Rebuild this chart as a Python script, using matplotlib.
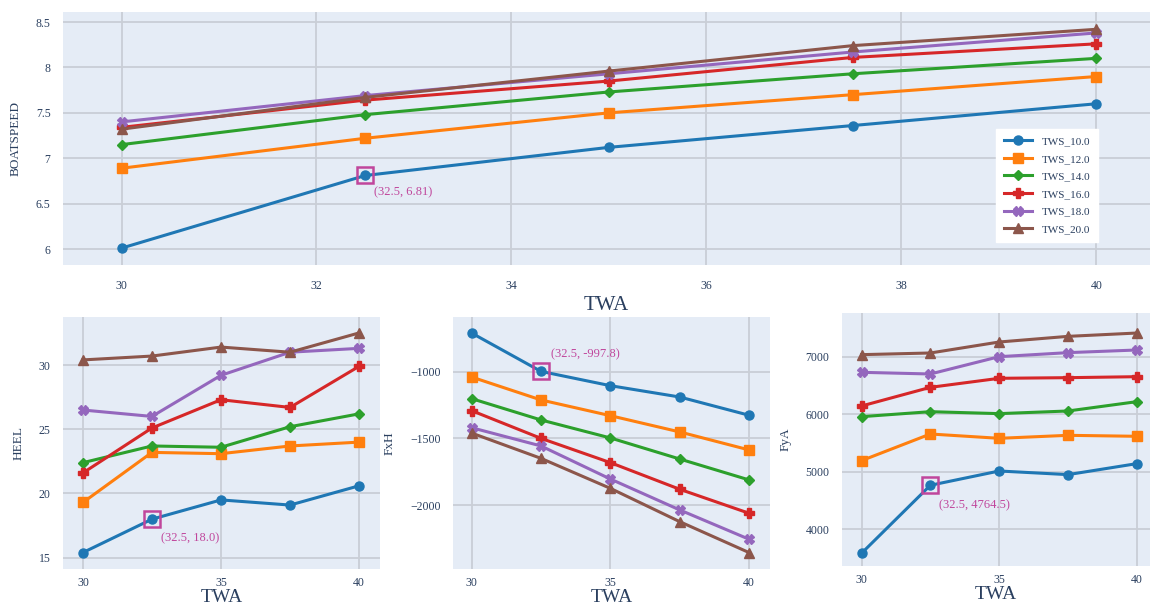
import matplotlib
matplotlib.use("Agg")
import matplotlib.pyplot as plt
from matplotlib.ticker import FuncFormatter

plt.rcParams['font.family'] = ['Liberation Serif', 'DejaVu Serif']

TWA = [30, 32.5, 35, 37.5, 40]
TWS = ['TWS_10.0', 'TWS_12.0', 'TWS_14.0', 'TWS_16.0', 'TWS_18.0', 'TWS_20.0']

boatspeed = [
    [6.01, 6.81, 7.12, 7.36, 7.60],
    [6.89, 7.22, 7.50, 7.70, 7.90],
    [7.15, 7.48, 7.73, 7.93, 8.10],
    [7.34, 7.64, 7.85, 8.11, 8.26],
    [7.40, 7.69, 7.93, 8.17, 8.38],
    [7.32, 7.67, 7.96, 8.24, 8.42],
]
heel = [
    [15.4, 18.0, 19.5, 19.1, 20.6],
    [19.3, 23.2, 23.1, 23.7, 24.0],
    [22.4, 23.7, 23.6, 25.2, 26.2],
    [21.6, 25.1, 27.3, 26.7, 29.9],
    [26.5, 26.0, 29.2, 31.0, 31.3],
    [30.4, 30.7, 31.4, 31.0, 32.5],
]
fxh = [
    [-710, -997.8, -1105, -1190, -1327],
    [-1040, -1212, -1330, -1452, -1587],
    [-1202, -1362, -1497, -1655, -1812],
    [-1292, -1500, -1682, -1882, -2062],
    [-1420, -1557, -1805, -2037, -2257],
    [-1460, -1650, -1875, -2125, -2357],
]
fya = [
    [3583, 4764.5, 5013, 4950, 5141],
    [5193, 5656, 5581, 5633, 5616],
    [5957, 6044, 6010, 6056, 6218],
    [6143, 6467, 6624, 6635, 6652],
    [6728, 6699, 7000, 7070, 7116],
    [7035, 7064, 7255, 7353, 7411],
]

colors = ['#1f77b4', '#ff7f0e', '#2ca02c', '#d62728', '#9467bd', '#8c564b']
markers = ['o', 's', 'D', 'P', 'X', '^']
msizes = [6.5, 6.5, 5.5, 7, 7, 6.5]
TXT = '#2a3f5f'
BG = '#e5ecf6'
GRID = '#c9ced6'
HL = '#c0469c'


def minus(v, _):
    return ('%g' % v).replace('-', '\u2212')


def setup(ax, xlim, ylim, xticks, yticks, ylabel, xpad, title_size, labelpad):
    ax.set_facecolor(BG)
    for s in ax.spines.values():
        s.set_visible(False)
    ax.set_xlim(*xlim)
    ax.set_ylim(*ylim)
    ax.set_xticks(xticks)
    ax.set_yticks(yticks)
    ax.yaxis.set_major_formatter(FuncFormatter(minus))
    ax.xaxis.set_major_formatter(FuncFormatter(minus))
    ax.grid(True, color=GRID, linewidth=1.3)
    ax.set_axisbelow(True)
    ax.tick_params(length=0, labelsize=8.5, colors=TXT)
    ax.tick_params(axis='x', pad=xpad)
    ax.tick_params(axis='y', pad=9)
    ax.set_xlabel('TWA', fontsize=title_size, color=TXT, labelpad=labelpad)
    ax.set_ylabel(ylabel, fontsize=9.5, color=TXT, labelpad=10)


def draw(ax, data, label=False):
    for i, ys in enumerate(data):
        ax.plot(TWA, ys, color=colors[i], marker=markers[i], markersize=msizes[i],
                linewidth=2.2, label=TWS[i] if label else None, zorder=3)


def highlight(ax, x, y, dx, dy, fmt):
    ax.plot([x], [y], marker='s', markersize=12, markerfacecolor='none',
            markeredgecolor=HL, markeredgewidth=1.8, zorder=4)
    ax.annotate('(%s, %s)' % (x, fmt % y), (x, y), xytext=(dx, dy),
                textcoords='offset pixels', ha='left', va='center',
                fontsize=9, color=HL, zorder=5)


fig = plt.figure(figsize=(11.52, 6.08), dpi=100)

ax_top = fig.add_axes([0.0547, 0.5641, 0.9436, 0.4161])
setup(ax_top, (29.4, 40.55), (5.824, 8.61), [30, 32, 34, 36, 38, 40],
      [6, 6.5, 7, 7.5, 8, 8.5], 'BOATSPEED', 11, 15, 3)
draw(ax_top, boatspeed, label=True)
highlight(ax_top, TWA[1], boatspeed[0][1], 9, -17, '%.2f')
leg = ax_top.legend(loc='lower left', bbox_to_anchor=(0.853, 0.07), fontsize=8,
                    frameon=True, fancybox=False, framealpha=1, edgecolor='white',
                    labelspacing=0.7, handlelength=2.6, borderpad=0.7)
for t in leg.get_texts():
    t.set_color(TXT)

ax_heel = fig.add_axes([0.0547, 0.0641, 0.2752, 0.4145])
setup(ax_heel, (29.28, 40.76), (14.12, 33.74), [30, 35, 40], [15, 20, 25, 30],
      'HEEL', 6, 14, 0)
draw(ax_heel, heel)
highlight(ax_heel, TWA[1], heel[0][1], 9, -19, '%.1f')

ax_fxh = fig.add_axes([0.3932, 0.0641, 0.2752, 0.4145])
setup(ax_fxh, (29.33, 40.75), (-2480, -590), [30, 35, 40], [-2000, -1500, -1000],
      'FxH', 6, 14, 0)
draw(ax_fxh, fxh)
highlight(ax_fxh, TWA[1], fxh[0][1], 10, 17, '%.1f')

ax_fya = fig.add_axes([0.7309, 0.0691, 0.2674, 0.4161])
setup(ax_fya, (29.29, 40.48), (3362, 7759), [30, 35, 40], [4000, 5000, 6000, 7000],
      'FyA', 6, 14, 0)
draw(ax_fya, fya)
highlight(ax_fya, TWA[1], fya[0][1], 9, -20, '%.1f')

fig.savefig('out.png', dpi=100)
